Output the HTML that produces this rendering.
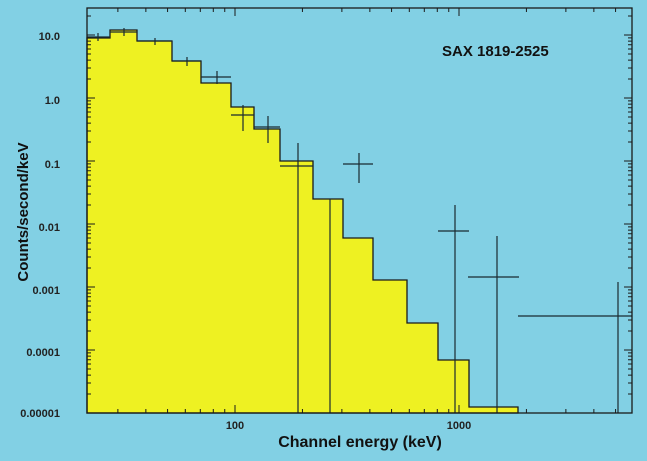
<!DOCTYPE html>
<html><head><meta charset="utf-8"><style>
html,body{margin:0;padding:0;background:#82d0e4;}
svg{display:block}
text{font-family:"Liberation Sans",Arial,sans-serif;}
</style></head><body>
<svg id="s" width="647" height="461" viewBox="0 0 647 461" xmlns="http://www.w3.org/2000/svg">
<rect x="0" y="0" width="647" height="461" fill="#82d0e4"/>
<path d="M87,413 L87,38 L110,38 L110,30 L137,30 L137,41 L172,41 L172,61 L201,61 L201,83 L231,83 L231,107 L254,107 L254,129 L280,129 L280,161 L313,161 L313,199 L343,199 L343,238 L373,238 L373,280 L407,280 L407,323 L438,323 L438,360 L469,360 L469,407 L518,407 L518,413 Z" fill="#eef122" stroke="#1a1a1a" stroke-width="1.3"/>
<g stroke="#1a2a30" stroke-width="1.2" fill="none">
<path d="M87,37H110M98,33V41"/>
<path d="M110,32H137M124,28V36"/>
<path d="M137,41H172M155,38V45"/>
<path d="M172,61H201M187,57V66"/>
<path d="M201,77H231M217,71V84"/>
<path d="M231,115H254M243,105V131"/>
<path d="M254,127H280M268,116V143"/>
<path d="M280,166H313M298,143V413"/>
<path d="M330,199V413"/>
<path d="M343,164H373M359,153V183"/>
<path d="M438,231H469M455,205V413"/>
<path d="M468,277H519M497,236V413"/>
<path d="M518,316H632M618,282V413"/>
</g>
<g id="ticks" stroke="#1a1a1a" stroke-width="1"></g>
<rect x="87" y="8" width="545" height="405" fill="none" stroke="#1a1a1a" stroke-width="1.3"/>
<g font-size="11" font-weight="bold" fill="#222" text-anchor="end">
<text x="60" y="40">10.0</text>
<text x="60" y="104">1.0</text>
<text x="60" y="168">0.1</text>
<text x="60" y="231">0.01</text>
<text x="60" y="294">0.001</text>
<text x="60" y="356">0.0001</text>
<text x="60" y="417">0.00001</text>
</g>
<g font-size="11" font-weight="bold" fill="#222" text-anchor="middle">
<text x="235" y="429">100</text>
<text x="459" y="429">1000</text>
</g>
<text x="442" y="56" font-size="15" font-weight="bold" fill="#111">SAX 1819-2525</text>
<text x="360" y="447" font-size="16" font-weight="bold" fill="#111" text-anchor="middle">Channel energy (keV)</text>
<text transform="translate(28,212) rotate(-90)" font-size="15" font-weight="bold" fill="#111" text-anchor="middle">Counts/second/keV</text>
</svg>
<script>
var g=document.getElementById('ticks'),d='';
function X(e){return 235+224*Math.log10(e/100);}
function Y(v){return 413-(Math.log10(v)+5)*63;}
for(var p=-5;p<=1;p++){for(var m=1;m<=9;m++){var v=m*Math.pow(10,p);var y=Y(v);if(y<8||y>413)continue;var L=m==1?8:4;d+='M87,'+y+'h'+L+'M632,'+y+'h'+(-L);}}
for(var p=1;p<=3;p++){for(var m=1;m<=9;m++){var e=m*Math.pow(10,p);var x=X(e);if(x<87||x>632)continue;var L=m==1?8:4;d+='M'+x+',413v'+(-L)+'M'+x+',8v'+L;}}
var pa=document.createElementNS('http://www.w3.org/2000/svg','path');pa.setAttribute('d',d);g.appendChild(pa);
</script>
</body></html>
